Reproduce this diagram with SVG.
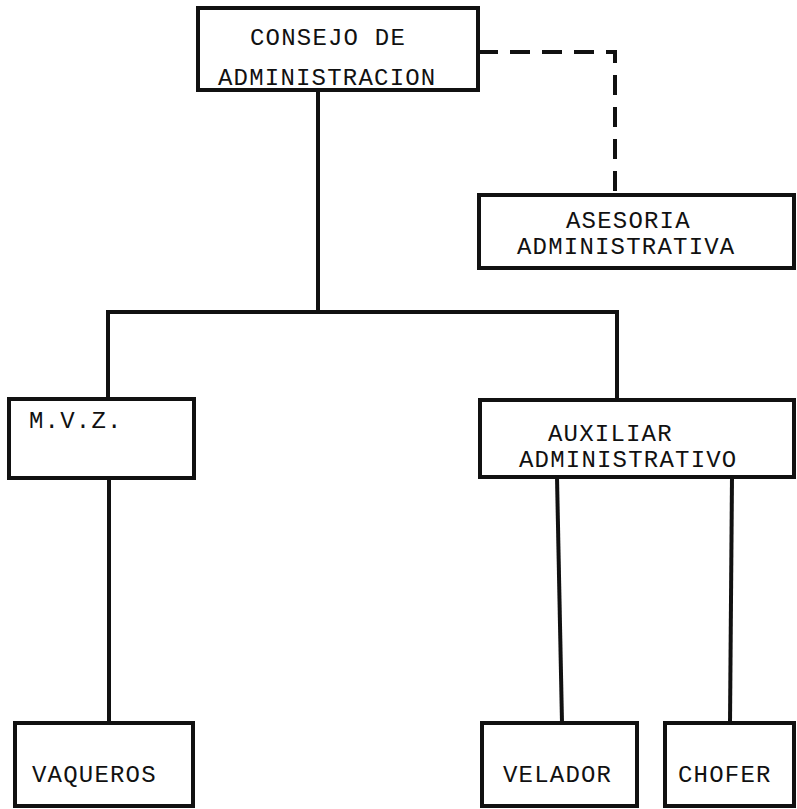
<svg xmlns="http://www.w3.org/2000/svg" width="797" height="809" viewBox="0 0 797 809">
<style>
.box{fill:#fff;stroke:#111;stroke-width:4}
.ln{fill:none;stroke:#111;stroke-width:4;stroke-linecap:square}
.dash{fill:none;stroke:#111;stroke-width:4;stroke-dasharray:20 12}
text{font-family:"Liberation Mono","DejaVu Sans Mono",monospace;font-size:24px;letter-spacing:1.2px;fill:#111}
</style>
<rect width="797" height="809" fill="#fff"/>
<g id="connectors">
<path class="dash" d="M478 52 H615 V195"/>
<path class="ln" d="M318 90 V312"/>
<path class="ln" d="M108 312 H617"/>
<path class="ln" d="M108 312 V399"/>
<path class="ln" d="M617 312 V400"/>
<path class="ln" d="M109 478 V723"/>
<path class="ln" d="M557 477 L562 723"/>
<path class="ln" d="M732 477 L730 723"/>
</g>
<g id="consejo">
<rect class="box" x="198" y="8" width="280" height="82"/>
<text x="250" y="45">CONSEJO DE</text>
<text x="218" y="85">ADMINISTRACION</text>
</g>
<g id="asesoria">
<rect class="box" x="479" y="195" width="315" height="73"/>
<text x="566" y="228">ASESORIA</text>
<text x="517" y="254">ADMINISTRATIVA</text>
</g>
<g id="mvz">
<rect class="box" x="9" y="399" width="185" height="79"/>
<text x="29" y="428">M.V.Z.</text>
</g>
<g id="auxiliar">
<rect class="box" x="480" y="400" width="314" height="77"/>
<text x="548" y="441">AUXILIAR</text>
<text x="519" y="467">ADMINISTRATIVO</text>
</g>
<g id="vaqueros">
<rect class="box" x="15" y="723" width="178" height="83"/>
<text x="32" y="782">VAQUEROS</text>
</g>
<g id="velador">
<rect class="box" x="482" y="723" width="155" height="83"/>
<text x="503" y="782">VELADOR</text>
</g>
<g id="chofer">
<rect class="box" x="665" y="723" width="129" height="83"/>
<text x="678" y="782">CHOFER</text>
</g>
</svg>
